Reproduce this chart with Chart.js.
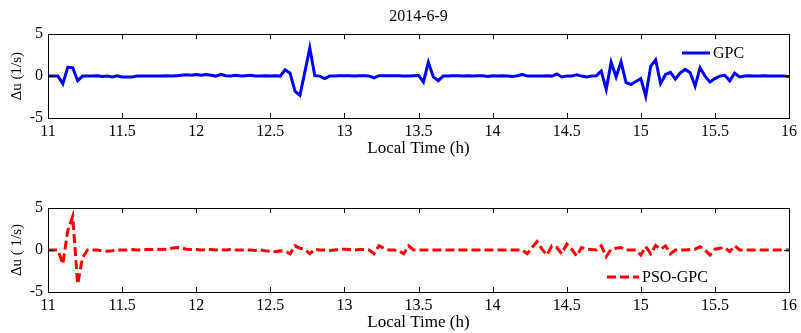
<!DOCTYPE html>
<html lang="es">
<head>
<meta charset="utf-8">
<title>Δu 2014-6-9</title>
<script src="https://cdn.jsdelivr.net/npm/chart.js@4"></script>
<style>
  html, body { margin: 0; padding: 0; background: #fff; }
  #contenido { position: relative; width: 801px; height: 333px; overflow: hidden; }
  .panel { position: absolute; left: 0; width: 801px; }
</style>
</head>
<body>
<div id="contenido">
  <div class="panel" style="top:0;height:166px"><canvas id="graficaGPC"></canvas></div>
  <div class="panel" style="top:166px;height:167px"><canvas id="graficaPSO"></canvas></div>
</div>
<script>
// Datos (muestreo cada 2 minutos, 11:00 a 16:00)
const horaInicio = 11;
const pasoMinutos = 2;

const ticksX = [11, 11.5, 12, 12.5, 13, 13.5, 14, 14.5, 15, 15.5, 16];
const ticksY = [-5, 0, 5];

const duGPC = [
  0, 0, 0, -0.9, 1.05, 1.0, -0.55, 0, 0, 0,
  0.05, -0.05, 0, -0.1, 0.05, -0.1, -0.1, -0.1, 0, 0,
  0, 0, 0, 0, 0.05, 0, 0.05, 0.1, 0.15, 0.1,
  0.2, 0.1, 0.2, 0.1, 0, 0.2, 0.05, 0, 0.1, 0,
  0.05, 0.1, 0, 0, 0.05, 0, 0.05, 0, 0.75, 0.35,
  -1.8, -2.3, 0.5, 3.35, 0.05, 0, -0.3, 0, 0, 0.05,
  0.05, 0.05, 0, 0.05, 0.05, 0, -0.2, 0.05, 0.05, 0.05,
  0.05, 0.05, 0, 0, 0.05, 0.1, -0.7, 1.65, -0.1, -0.55,
  0, 0, 0.05, 0.05, 0, 0.05, 0, 0.05, 0.05, -0.05,
  0.05, 0, 0.05, 0, -0.05, 0.05, 0.2, 0, 0, 0,
  0, 0.05, 0, 0.25, -0.1, 0, 0, 0.15, 0, -0.1,
  0, 0.05, 0.6, -1.6, 1.65, -0.1, 1.7, -0.75, -1.0, -0.65,
  -0.3, -2.4, 1.15, 1.95, -0.9, 0.2, 0.45, -0.35, 0.4, 0.8,
  0.4, -1.2, 1.0, 0, -0.7, -0.3, 0, 0.1, -0.55, 0.35,
  -0.1, 0, 0.05, 0, 0, 0.05, 0, 0, 0, 0, -0.05
];

const duPSO = [
  0, 0, 0, -1.65, 2.3, 4.0, -4.05, -0.9, 0, 0,
  0, -0.1, -0.15, -0.1, 0, 0, 0, 0.05, 0, 0,
  0.05, 0.05, 0.1, 0.05, 0.1, 0.2, 0.3, 0.25, 0.1, 0.05,
  0.05, 0, 0.05, 0.05, 0, 0.05, 0, 0.05, 0, 0,
  0, 0, -0.05, 0, -0.1, -0.15, -0.2, -0.1, -0.15, -0.45,
  0.5, 0.2, 0.1, -0.45, 0.1, 0, 0, -0.05, 0, 0.05,
  0.1, 0.05, 0, 0.05, 0.05, 0, -0.45, 0.5, 0.2, 0,
  0, -0.1, -0.45, 0.5, 0, 0, 0, 0, 0, 0,
  0, 0, 0, 0, 0, 0, 0, 0, 0, 0,
  0, 0, 0, 0, 0, 0, 0, -0.45, 0.3, 1.0,
  0.1, -0.6, 0.5, 0.3, -0.45, 0.7, 0.1, -0.7, 0.3, 0.1,
  0.05, 0, 0.5, -0.8, 0.1, 0.2, 0.3, 0, 0, 0,
  -0.6, 0.4, -0.45, 0.55, 0.1, 0.5, -0.45, 0, 0, 0,
  0.05, 0.1, 0.4, 0, -0.6, 0.1, 0.2, 0.3, -0.2, 0.5,
  0, 0, 0, 0, 0, 0, 0, 0, 0, 0, 0
];

// horas (eje x) a partir del inicio y el paso de muestreo
const horas = duGPC.map((_, i) => horaInicio + i * pasoMinutos / 60);

const fuente = '"Liberation Serif", "Times New Roman", serif';
Chart.defaults.font.family = fuente;
Chart.defaults.color = '#000';

// caja negra alrededor del area y marcas hacia dentro (estilo MATLAB)
const marcoEjes = {
  id: 'marcoEjes',
  afterDatasetsDraw(chart) {
    const { ctx, chartArea: a, scales } = chart;
    const largo = 5;
    ctx.save();
    ctx.strokeStyle = '#000';
    ctx.lineWidth = 1;
    ctx.beginPath();
    scales.x.ticks.forEach(t => {
      const px = Math.round(scales.x.getPixelForValue(t.value)) + 0.5;
      ctx.moveTo(px, a.top); ctx.lineTo(px, a.top + largo);
      ctx.moveTo(px, a.bottom); ctx.lineTo(px, a.bottom - largo);
    });
    scales.y.ticks.forEach(t => {
      const py = Math.round(scales.y.getPixelForValue(t.value)) + 0.5;
      ctx.moveTo(a.left, py); ctx.lineTo(a.left + largo, py);
      ctx.moveTo(a.right, py); ctx.lineTo(a.right - largo, py);
    });
    ctx.stroke();
    ctx.strokeRect(Math.round(a.left) + 0.5, Math.round(a.top) + 0.5,
      Math.round(a.right - a.left), Math.round(a.bottom - a.top));
    ctx.restore();
  }
};

// leyenda sin caja dentro del area de la grafica
const leyendaInterna = {
  id: 'leyendaInterna',
  afterDraw(chart, args, opts) {
    const { ctx } = chart;
    const ds = chart.data.datasets[0];
    ctx.save();
    ctx.strokeStyle = ds.borderColor;
    ctx.lineWidth = ds.borderWidth;
    ctx.setLineDash(ds.borderDash || []);
    ctx.beginPath();
    ctx.moveTo(opts.x, opts.y);
    ctx.lineTo(opts.x + opts.largo, opts.y);
    ctx.stroke();
    ctx.setLineDash([]);
    ctx.fillStyle = '#000';
    ctx.font = opts.tamano + 'px ' + fuente;
    ctx.textBaseline = 'middle';
    ctx.fillText(ds.label, opts.x + opts.largo + 3, opts.y + 1);
    ctx.restore();
  }
};

function crearGrafica(id, cfg) {
  return new Chart(document.getElementById(id), {
    type: 'line',
    data: {
      datasets: [{
        label: cfg.etiqueta,
        data: horas.map((h, i) => ({ x: h, y: cfg.valores[i] })),
        borderColor: cfg.color,
        borderWidth: 3,
        borderDash: cfg.guiones,
        pointRadius: 0,
        tension: 0,
        fill: false
      }]
    },
    options: {
      responsive: true,
      maintainAspectRatio: false,
      animation: false,
      events: [],
      layout: { padding: { top: cfg.margenSup, right: 10, left: 0, bottom: 0 } },
      plugins: {
        legend: { display: false },
        tooltip: { enabled: false },
        title: cfg.titulo ? {
          display: true,
          text: cfg.titulo,
          fullSize: false,
          color: '#000',
          font: { size: 16, weight: 'normal' },
          padding: { top: 7, bottom: 8 }
        } : { display: false },
        leyendaInterna: cfg.leyenda
      },
      scales: {
        x: {
          type: 'linear',
          min: 11,
          max: 16,
          afterBuildTicks: s => { s.ticks = ticksX.map(v => ({ value: v })); },
          afterFit: s => { s.height = cfg.altoEjeX; },
          grid: { display: false, drawTicks: false },
          border: { display: false },
          ticks: {
            font: { size: 16 },
            padding: 4,
            maxRotation: 0,
            autoSkip: false,
            callback: v => String(v)
          },
          title: {
            display: true,
            text: 'Local Time (h)',
            font: { size: 17 },
            padding: { top: 0, bottom: cfg.padTituloX }
          }
        },
        y: {
          min: -5,
          max: 5,
          afterBuildTicks: s => { s.ticks = ticksY.map(v => ({ value: v })); },
          afterFit: s => { s.width = 48; },
          grid: { display: false, drawTicks: false },
          border: { display: false },
          ticks: { font: { size: 16 }, padding: 5, callback: v => String(v) },
          title: {
            display: true,
            text: cfg.tituloY,
            font: { size: 15 },
            padding: { top: 8, bottom: 0 }
          }
        }
      }
    },
    plugins: [marcoEjes, leyendaInterna]
  });
}

crearGrafica('graficaGPC', {
  etiqueta: 'GPC',
  valores: duGPC,
  color: '#0000ff',
  guiones: [],
  titulo: '2014-6-9',
  tituloY: 'Δu (1/s)',
  margenSup: 0,
  altoEjeX: 48,
  padTituloX: 7,
  leyenda: { x: 682, y: 53, largo: 28, tamano: 16 }
});

crearGrafica('graficaPSO', {
  etiqueta: 'PSO-GPC',
  valores: duPSO,
  color: '#ff0000',
  guiones: [9, 4],
  titulo: null,
  tituloY: 'Δu ( 1/s)',
  margenSup: 42,
  altoEjeX: 41,
  padTituloX: 0,
  leyenda: { x: 607, y: 111, largo: 32, tamano: 16 }
});
</script>
</body>
</html>
